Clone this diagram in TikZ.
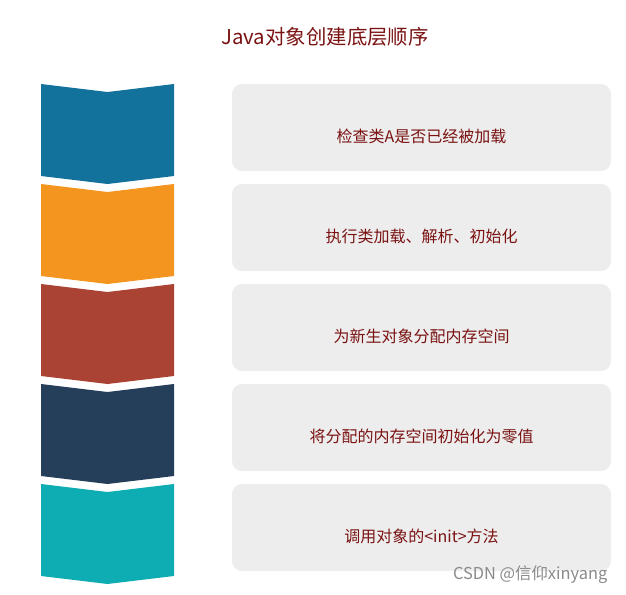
\documentclass[tikz,border=0pt]{standalone}
\usepackage{fontspec}
\setmainfont{Noto Sans CJK SC}
\begin{document}
\begin{tikzpicture}[x=0.75pt,y=-0.75pt,
  stepbox/.style={fill=boxgray,draw=none,rounded corners=7.5pt},
  steptext/.style={text=textred,font=\fontsize{12pt}{14pt}\selectfont,anchor=center},
  titletext/.style={text=textred,font=\fontsize{15.3pt}{18pt}\selectfont},
  marktext/.style={text=markgray,font=\fontsize{12.3pt}{14pt}\selectfont}]
\definecolor{boxgray}{HTML}{EDEDED}
\definecolor{textred}{HTML}{7A1212}
\definecolor{markgray}{HTML}{8A8A8A}
\definecolor{cA}{HTML}{12729C}
\definecolor{cB}{HTML}{F3951F}
\definecolor{cC}{HTML}{AB4334}
\definecolor{cD}{HTML}{253F5A}
\definecolor{cE}{HTML}{0EADB4}
\useasboundingbox (0,0) rectangle (626,594);
\node[titletext] (title) at (325,37) {Java对象创建底层顺序};
\foreach \i/\c/\t in {0/cA/检查类A是否已经被加载,1/cB/执行类加载、解析、初始化,2/cC/为新生对象分配内存空间,3/cD/将分配的内存空间初始化为零值,4/cE/调用对象的<init>方法}{
  \pgfmathsetmacro{\yy}{84+100*\i}
  \fill[\c] (41,\yy) -- (107.5,\yy+8) -- (174,\yy) -- (174,\yy+92) -- (107.5,\yy+100) -- (41,\yy+92) -- cycle;
  \fill[stepbox] (232,\yy) rectangle (611,\yy+87);
  \node[steptext] (s\i) at (421.5,\yy+52) {\t};
}
\node[marktext,anchor=east] (mark) at (612,575) {CSDN @信仰xinyang};
\end{tikzpicture}
\end{document}
